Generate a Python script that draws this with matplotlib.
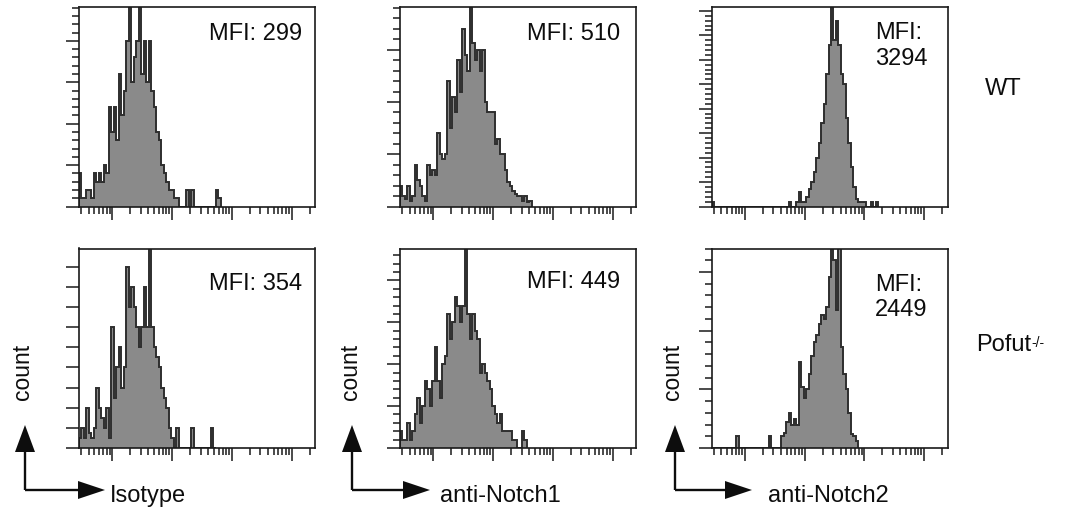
import matplotlib
matplotlib.use("Agg")
import matplotlib.pyplot as plt
import numpy as np
from matplotlib.ticker import LogLocator, MultipleLocator, NullFormatter, NullLocator

plt.rcParams['font.family'] = ['Liberation Sans', 'DejaVu Sans']

# histogram channels: log10 intensity of first channel, channels per decade
channel_start = 0.44
channels_per_decade = 24

# counts per channel (units = minor y tick)
wt_isotype = [4, 1, 1, 2, 2, 1, 4, 3, 4, 3, 5, 4, 12, 9, 12, 8, 16, 11, 14, 20,
              26, 15, 18, 20, 26, 16, 20, 15, 20, 14, 12, 9, 8, 5, 4, 3, 2, 2, 1, 1,
              0, 0, 0, 2, 0, 2, 0, 0, 0, 0, 0, 0, 0, 0, 0, 2, 1]
wt_notch1 = [2, 1, 0.7, 2, 0.5, 1, 4, 2.5, 2, 1, 0.5, 4, 3, 3.5, 3, 7, 5, 4.5, 5, 12,
             7.5, 10.5, 9, 14, 11, 17, 14.5, 13, 21, 15.7, 14, 15, 13, 15, 10, 9, 9, 9, 6, 6.5,
             5, 5, 3.5, 2.3, 2, 1.5, 1.2, 1, 1, 0.5, 1, 0.4, 0.5]
wt_notch2 = [1, 0, 0, 0, 0, 0, 0, 0, 0, 0, 0, 0, 0, 0, 0, 0, 0, 0, 0, 0,
             0, 0, 0, 0, 0, 0, 0, 0, 0, 0, 0, 1, 0, 0, 1, 3, 1, 1, 2, 3.5,
             5, 7, 10, 13, 17, 21, 27, 33, 43, 34, 38, 33, 27, 25, 18, 13, 8, 4, 1.5, 1,
             1, 1, 0, 0, 1, 0, 1]
ko_isotype = [1, 2, 1, 4, 1.5, 1, 2, 6, 4, 3, 2, 4, 1, 12, 5, 8, 10, 6, 8, 18,
              14, 16, 14, 12, 10, 12, 16, 12, 21, 12, 10, 9, 8, 6, 5, 4, 2, 1, 0, 2,
              0, 0, 0, 0, 0, 2, 0, 0, 0, 0, 0, 0, 0, 2, 0]
ko_notch1 = [2, 1, 1, 3, 1, 2, 4, 6, 3, 5, 8, 7, 5, 8, 12, 8, 6, 10, 11, 16,
             13, 15, 18, 17, 15, 17, 25, 16, 13, 16, 14, 13, 9, 10, 9, 8, 7, 5, 4, 3,
             4, 2, 2, 2, 2, 1, 1, 0, 0, 2, 1]
ko_notch2 = [0, 0, 0, 0, 0, 0, 0, 0, 0, 0, 1, 0, 0, 0, 0, 0, 0, 0, 0, 0,
             0, 0, 0, 1, 0, 0, 0, 0, 1, 1.3, 2.2, 3, 2, 2.5, 2, 7.3, 5.2, 4.3, 5, 6.3,
             7.8, 9, 9.6, 10.6, 11.3, 11, 12, 14.6, 18, 16, 11.8, 18, 8.6, 6.3, 5, 3, 1.2, 1, 0.6]

histograms = [[wt_isotype, wt_notch1, wt_notch2],
              [ko_isotype, ko_notch1, ko_notch2]]
y_max = [[24.1, 19.1, 40.8], [19.8, 23.8, 17.0]]
y_major = [[5, 5, 5], [2, 5, 5]]
y_has_minor = [[True, True, True], [False, True, True]]

mfi_labels = [["MFI: 299", "MFI: 510", "MFI:\n3294"],
              ["MFI: 354", "MFI: 449", "MFI:\n2449"]]
x_labels = ["Isotype", "anti-Notch1", "anti-Notch2"]
row_labels = ["WT", "Pofut"]

W, H = 1074, 517
fig = plt.figure(figsize=(W / 100, H / 100), dpi=100)

col_left = [79, 400, 711.5]
row_top = [7, 248.5]
ax_w, ax_h = 236, 199.5

fill_col = "#8a8a8a"
line_col = "#2e2e2e"
ink = "#0d0d0d"

for r in range(2):
    for c in range(3):
        ax = fig.add_axes([col_left[c] / W, 1 - (row_top[r] + ax_h) / H, ax_w / W, ax_h / H])
        counts = np.array(histograms[r][c], dtype=float)
        edges = 10 ** (channel_start + np.arange(len(counts) + 1) / channels_per_decade)
        ax.stairs(counts, edges, fill=True, color=fill_col, lw=0)
        ax.stairs(counts, edges, color=line_col, lw=1.4)
        ax.set_xscale("log")
        ax.set_xlim(10 ** 0.44, 10 ** 4.39)
        ax.set_ylim(0, y_max[r][c])
        ax.xaxis.set_major_locator(LogLocator(base=10, numticks=12))
        ax.xaxis.set_minor_locator(LogLocator(base=10, subs=np.arange(2, 10), numticks=12))
        ax.xaxis.set_major_formatter(NullFormatter())
        ax.xaxis.set_minor_formatter(NullFormatter())
        ax.yaxis.set_major_locator(MultipleLocator(y_major[r][c]))
        if y_has_minor[r][c]:
            ax.yaxis.set_minor_locator(MultipleLocator(1))
        else:
            ax.yaxis.set_minor_locator(NullLocator())
        ax.yaxis.set_major_formatter(NullFormatter())
        ax.tick_params(which="major", length=9.5, width=1.1, color="#1a1a1a", direction="out")
        ax.tick_params(which="minor", length=5, width=1.1, color="#1a1a1a", direction="out")
        for s in ax.spines.values():
            s.set_linewidth(1.2)
            s.set_color("#1a1a1a")

# overlay in pixel coordinates for the annotations
ov = fig.add_axes([0, 0, 1, 1])
ov.set_xlim(0, W)
ov.set_ylim(H, 0)
ov.axis("off")

fs = 17
# (x, baseline of last line, alignment)
mfi_pos = [[(302, 39.5, "right"), (620, 39.5, "right"), (875, 65, "left")],
           [(302, 290, "right"), (620, 288.5, "right"), (875, 316.5, "left")]]
for r in range(2):
    for c in range(3):
        x, y, ha = mfi_pos[r][c]
        ov.text(x, y, mfi_labels[r][c], ha=ha, va="baseline", fontsize=fs,
                linespacing=1.22, color=ink)

# axis arrows under each column
arrow_x = [25, 352, 675]
arrow_tip = [105, 430, 752]
label_x = [110, 440, 768]
for c in range(3):
    xv = arrow_x[c]
    ov.plot([xv, xv], [490, 450], color=ink, lw=1.7, solid_capstyle="butt")
    ov.plot([xv, arrow_tip[c] - 26], [490, 490], color=ink, lw=1.7, solid_capstyle="butt")
    ov.fill([xv - 10, xv + 10, xv], [452, 452, 425], color=ink, lw=0)
    ov.fill([arrow_tip[c] - 27, arrow_tip[c] - 27, arrow_tip[c]], [481, 499, 490],
            color=ink, lw=0)
    ov.text(xv - 2, 372, "count", rotation=90, ha="center", va="center",
            fontsize=16.5, color=ink)
    ov.text(label_x[c], 502, x_labels[c], ha="left", va="baseline", fontsize=fs,
            color=ink)

ov.text(985, 95, row_labels[0], ha="left", va="baseline", fontsize=fs, color=ink)
pofut = ov.text(976, 351, row_labels[1], ha="left", va="baseline", fontsize=fs, color=ink)
ov.annotate("-/-", xy=(1.0, 0.93), xycoords=pofut, ha="left", va="top",
            fontsize=10, color=ink)

fig.savefig("out.png", dpi=100)
